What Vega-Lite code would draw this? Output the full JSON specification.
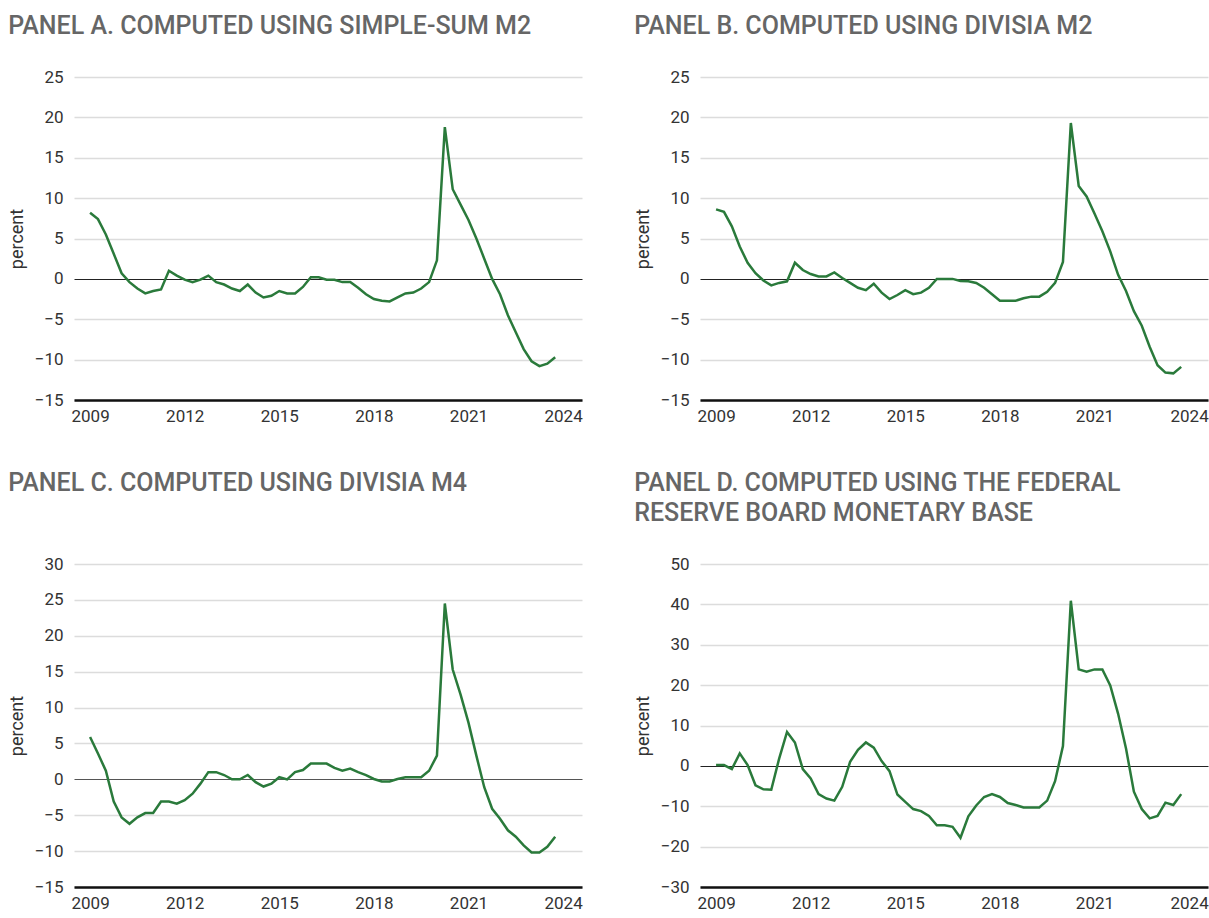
{
  "$schema": "https://vega.github.io/schema/vega-lite/v6.json",
  "padding": {"left": 8, "top": 14, "right": 0, "bottom": 0},
  "background": "white",
  "config": {
    "font": "Roboto",
    "view": {"stroke": null},
    "axis": {"labelFont": "Roboto", "labelFontSize": 17, "labelColor": "#333333", "ticks": false, "titleFont": "Roboto", "titleFontSize": 18, "titleFontWeight": "normal", "titleColor": "#333333", "gridColor": "#dcdcdc", "gridWidth": 1.5},
    "axisX": {"domainColor": "#111111", "domainWidth": 2.5, "grid": false, "labelPadding": 8},
    "axisY": {"domain": false, "labelPadding": 11, "titlePadding": 8},
    "title": {"font": "Roboto", "fontSize": 25, "fontWeight": 500, "color": "#666666", "anchor": "start", "frame": "bounds", "offset": 29, "lineHeight": 30, "baseline": "bottom"},
    "line": {"color": "#2a7a3b", "strokeWidth": 2.5}
  },
  "data": {"values": [
    {"t": 2009, "a": 8.2, "b": 8.6, "c": 5.9, "d": 0.2},
    {"t": 2009.25, "a": 7.4, "b": 8.3, "c": 3.6, "d": 0.2},
    {"t": 2009.5, "a": 5.5, "b": 6.5, "c": 1.2, "d": -0.8},
    {"t": 2009.75, "a": 3.1, "b": 4.0, "c": -3.1, "d": 3.1},
    {"t": 2010, "a": 0.7, "b": 2.0, "c": -5.3, "d": 0.2},
    {"t": 2010.25, "a": -0.4, "b": 0.7, "c": -6.2, "d": -4.8},
    {"t": 2010.5, "a": -1.2, "b": -0.2, "c": -5.3, "d": -5.8},
    {"t": 2010.75, "a": -1.8, "b": -0.8, "c": -4.7, "d": -5.9},
    {"t": 2011, "a": -1.5, "b": -0.5, "c": -4.7, "d": 1.8},
    {"t": 2011.25, "a": -1.3, "b": -0.3, "c": -3.1, "d": 8.4},
    {"t": 2011.5, "a": 1.0, "b": 2.0, "c": -3.1, "d": 5.8},
    {"t": 2011.75, "a": 0.4, "b": 1.1, "c": -3.4, "d": -0.8},
    {"t": 2012, "a": -0.1, "b": 0.6, "c": -2.9, "d": -3.1},
    {"t": 2012.25, "a": -0.4, "b": 0.3, "c": -2.0, "d": -7.0},
    {"t": 2012.5, "a": -0.1, "b": 0.3, "c": -0.6, "d": -8.1},
    {"t": 2012.75, "a": 0.4, "b": 0.8, "c": 1.0, "d": -8.6},
    {"t": 2013, "a": -0.4, "b": 0.1, "c": 1.0, "d": -5.2},
    {"t": 2013.25, "a": -0.7, "b": -0.5, "c": 0.6, "d": 1.0},
    {"t": 2013.5, "a": -1.2, "b": -1.1, "c": 0.0, "d": 4.0},
    {"t": 2013.75, "a": -1.5, "b": -1.4, "c": 0.0, "d": 5.8},
    {"t": 2014, "a": -0.7, "b": -0.6, "c": 0.6, "d": 4.5},
    {"t": 2014.25, "a": -1.7, "b": -1.7, "c": -0.4, "d": 1.2},
    {"t": 2014.5, "a": -2.3, "b": -2.5, "c": -1.0, "d": -1.3},
    {"t": 2014.75, "a": -2.1, "b": -2.0, "c": -0.6, "d": -7.1},
    {"t": 2015, "a": -1.5, "b": -1.4, "c": 0.3, "d": -8.9},
    {"t": 2015.25, "a": -1.8, "b": -1.9, "c": 0.0, "d": -10.7},
    {"t": 2015.5, "a": -1.8, "b": -1.7, "c": 1.0, "d": -11.2},
    {"t": 2015.75, "a": -1.0, "b": -1.1, "c": 1.3, "d": -12.4},
    {"t": 2016, "a": 0.2, "b": 0.0, "c": 2.2, "d": -14.7},
    {"t": 2016.25, "a": 0.2, "b": 0.0, "c": 2.2, "d": -14.7},
    {"t": 2016.5, "a": -0.1, "b": 0.0, "c": 2.2, "d": -15.1},
    {"t": 2016.75, "a": -0.1, "b": -0.25, "c": 1.6, "d": -17.8},
    {"t": 2017, "a": -0.4, "b": -0.3, "c": 1.2, "d": -12.5},
    {"t": 2017.25, "a": -0.4, "b": -0.5, "c": 1.5, "d": -9.8},
    {"t": 2017.5, "a": -1.1, "b": -1.1, "c": 1.0, "d": -7.7},
    {"t": 2017.75, "a": -1.9, "b": -1.9, "c": 0.6, "d": -7.0},
    {"t": 2018, "a": -2.5, "b": -2.7, "c": 0.05, "d": -7.7},
    {"t": 2018.25, "a": -2.7, "b": -2.7, "c": -0.3, "d": -9.2},
    {"t": 2018.5, "a": -2.8, "b": -2.7, "c": -0.3, "d": -9.7},
    {"t": 2018.75, "a": -2.3, "b": -2.4, "c": 0.05, "d": -10.3},
    {"t": 2019, "a": -1.8, "b": -2.2, "c": 0.3, "d": -10.3},
    {"t": 2019.25, "a": -1.7, "b": -2.2, "c": 0.3, "d": -10.3},
    {"t": 2019.5, "a": -1.2, "b": -1.6, "c": 0.3, "d": -8.6},
    {"t": 2019.75, "a": -0.4, "b": -0.5, "c": 1.2, "d": -3.8},
    {"t": 2020, "a": 2.3, "b": 2.1, "c": 3.3, "d": 4.9},
    {"t": 2020.25, "a": 18.8, "b": 19.3, "c": 24.5, "d": 40.9},
    {"t": 2020.5, "a": 11.1, "b": 11.5, "c": 15.3, "d": 23.9},
    {"t": 2020.75, "a": 9.2, "b": 10.2, "c": 11.8, "d": 23.3},
    {"t": 2021, "a": 7.3, "b": 8.1, "c": 7.9, "d": 23.9},
    {"t": 2021.25, "a": 5.0, "b": 5.9, "c": 3.3, "d": 23.9},
    {"t": 2021.5, "a": 2.5, "b": 3.4, "c": -1.1, "d": 19.9},
    {"t": 2021.75, "a": 0.0, "b": 0.5, "c": -4.1, "d": 12.9},
    {"t": 2022, "a": -1.9, "b": -1.5, "c": -5.5, "d": 4.3},
    {"t": 2022.25, "a": -4.5, "b": -4.0, "c": -7.1, "d": -6.4},
    {"t": 2022.5, "a": -6.6, "b": -5.8, "c": -8.0, "d": -10.7},
    {"t": 2022.75, "a": -8.7, "b": -8.4, "c": -9.2, "d": -13.0},
    {"t": 2023, "a": -10.2, "b": -10.7, "c": -10.2, "d": -12.4},
    {"t": 2023.25, "a": -10.8, "b": -11.6, "c": -10.2, "d": -9.1},
    {"t": 2023.5, "a": -10.5, "b": -11.7, "c": -9.4, "d": -9.7},
    {"t": 2023.75, "a": -9.7, "b": -10.9, "c": -8.0, "d": -7.0}
  ]},
  "spacing": 47,
  "vconcat": [
    {
      "spacing": 51,
      "hconcat": [
        {
          "title": {"text": ["PANEL A. COMPUTED USING SIMPLE-SUM M2"]},
          "width": 508, "height": 323,
          "mark": {"type": "line"},
          "encoding": {
            "x": {"field": "t", "type": "quantitative", "scale": {"domain": [2008.49, 2024.6], "nice": false, "zero": false}, "axis": {"values": [2009, 2012, 2015, 2018, 2021, 2024], "format": "d", "title": null}},
            "y": {"field": "a", "type": "quantitative", "scale": {"domain": [-15, 25], "nice": false}, "axis": {"values": [-15, -10, -5, 0, 5, 10, 15, 20, 25], "title": "percent", "gridColor": {"condition": {"test": "datum.value === 0", "value": "#222222"}, "value": "#dcdcdc"}, "gridWidth": {"condition": {"test": "datum.value === 0", "value": 1}, "value": 1.5}}}
          }
        },
        {
          "title": {"text": ["PANEL B. COMPUTED USING DIVISIA M2"]},
          "width": 508, "height": 323,
          "mark": {"type": "line"},
          "encoding": {
            "x": {"field": "t", "type": "quantitative", "scale": {"domain": [2008.49, 2024.6], "nice": false, "zero": false}, "axis": {"values": [2009, 2012, 2015, 2018, 2021, 2024], "format": "d", "title": null}},
            "y": {"field": "b", "type": "quantitative", "scale": {"domain": [-15, 25], "nice": false}, "axis": {"values": [-15, -10, -5, 0, 5, 10, 15, 20, 25], "title": "percent", "gridColor": {"condition": {"test": "datum.value === 0", "value": "#222222"}, "value": "#dcdcdc"}, "gridWidth": {"condition": {"test": "datum.value === 0", "value": 1}, "value": 1.5}}}
          }
        }
      ]
    },
    {
      "spacing": 51,
      "hconcat": [
        {
          "title": {"text": ["PANEL C. COMPUTED USING DIVISIA M4", " "]},
          "width": 508, "height": 323,
          "mark": {"type": "line"},
          "encoding": {
            "x": {"field": "t", "type": "quantitative", "scale": {"domain": [2008.49, 2024.6], "nice": false, "zero": false}, "axis": {"values": [2009, 2012, 2015, 2018, 2021, 2024], "format": "d", "title": null}},
            "y": {"field": "c", "type": "quantitative", "scale": {"domain": [-15, 30], "nice": false}, "axis": {"values": [-15, -10, -5, 0, 5, 10, 15, 20, 25, 30], "title": "percent", "gridColor": {"condition": {"test": "datum.value === 0", "value": "#555555"}, "value": "#dcdcdc"}, "gridWidth": {"condition": {"test": "datum.value === 0", "value": 1.2}, "value": 1.5}}}
          }
        },
        {
          "title": {"text": ["PANEL D. COMPUTED USING THE FEDERAL", "RESERVE BOARD MONETARY BASE"]},
          "width": 508, "height": 323,
          "mark": {"type": "line"},
          "encoding": {
            "x": {"field": "t", "type": "quantitative", "scale": {"domain": [2008.49, 2024.6], "nice": false, "zero": false}, "axis": {"values": [2009, 2012, 2015, 2018, 2021, 2024], "format": "d", "title": null}},
            "y": {"field": "d", "type": "quantitative", "scale": {"domain": [-30, 50], "nice": false}, "axis": {"values": [-30, -20, -10, 0, 10, 20, 30, 40, 50], "title": "percent", "gridColor": {"condition": {"test": "datum.value === 0", "value": "#222222"}, "value": "#dcdcdc"}, "gridWidth": {"condition": {"test": "datum.value === 0", "value": 1}, "value": 1.5}}}
          }
        }
      ]
    }
  ]
}
